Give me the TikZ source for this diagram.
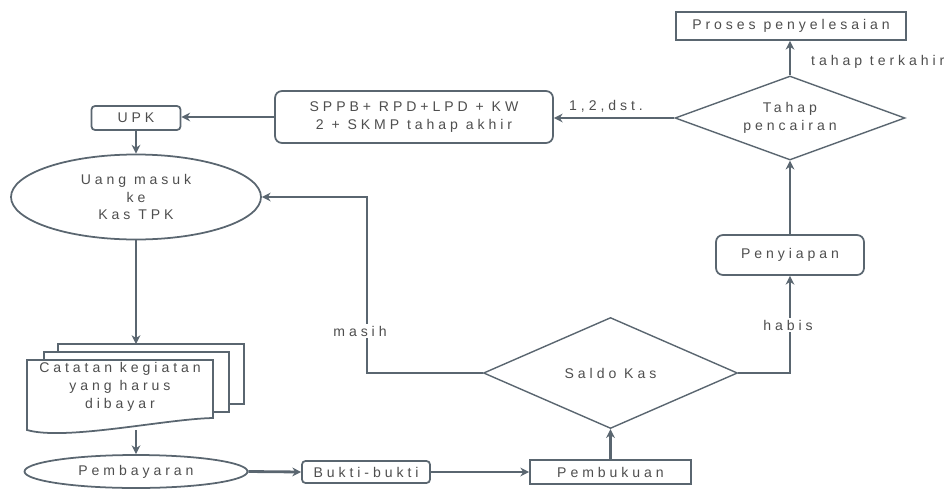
\documentclass[tikz,border=0pt]{standalone}
\usepackage{fontspec}
\newfontfamily\flowfont{Liberation Sans}[LetterSpace=28]
\usetikzlibrary{arrows.meta,positioning,calc,shapes.geometric}
\definecolor{cLine}{HTML}{5A6670}
\definecolor{cInk}{HTML}{4E4E4E}
\tikzset{
  >=Stealth,
  txt/.style={font=\flowfont\fontsize{8}{10.2}\selectfont,text=cInk},
  box/.style={txt,rounded corners=4pt,draw=cLine,line width=1pt,align=center,inner sep=2pt},
  sbox/.style={box,rounded corners=0pt},
  ell/.style={box,ellipse,rounded corners=0pt},
  dia/.style={box,diamond,rounded corners=0pt,line width=0.8pt,inner sep=1pt},
  ar/.style={-{Stealth[length=5pt,width=5pt]},line width=1.6pt,cLine},
  ln/.style={line width=1pt,cLine},
  lbl/.style={txt,fill=white,inner sep=1pt},
}

\begin{document}
\begin{tikzpicture}
\useasboundingbox (0,0) rectangle (19.02,9.8);
% right column
\node[sbox,minimum width=4.6cm,minimum height=5.6mm] (proses) at (15.82,9.28) {Proses penyelesaian};
\node[dia,aspect=2.7,minimum width=4.6cm,minimum height=1.68cm] (tahap) at (15.80,7.44) {Tahap\\pencairan};
\node[box,minimum width=2.96cm,minimum height=8mm] (siap) at (15.80,4.70) {Penyiapan};
% top row
\node[box,minimum width=5.56cm,minimum height=1.04cm] (spp) at (8.28,7.46) {SPPB+ RPD+LPD + KW\\2 + SKMP tahap akhir};
\node[box,rounded corners=2pt,minimum width=1.78cm,minimum height=4.8mm] (upk) at (2.72,7.44) {UPK};
% left column
\node[ell,minimum width=5cm,minimum height=1.7cm] (uang) at (2.72,5.86) {Uang masuk\\ke\\Kas TPK};
\node[txt,align=center] (cat) at (2.40,2.06) {Catatan kegiatan\\yang harus\\dibayar};
\coordinate (catin) at (2.72,2.92);
\coordinate (catout) at (2.72,1.20);
\node[ell,minimum width=4.46cm,minimum height=6.6mm] (bayar) at (2.72,0.37) {Pembayaran};
% bottom row
\node[box,rounded corners=2pt,minimum width=2.56cm,minimum height=4.4mm] (bukti) at (7.32,0.36) {Bukti-bukti};
\node[sbox,minimum width=3.22cm,minimum height=4.8mm] (buku) at (12.21,0.36) {Pembukuan};
\node[dia,aspect=2.3,minimum width=5.08cm,minimum height=2.22cm] (saldo) at (12.21,2.34) {Saldo Kas};

% document stack
\draw[ln] (1.16,2.76) -- (1.16,2.92) -- (4.88,2.92) -- (4.88,1.72) -- (4.58,1.72);
\draw[ln] (0.88,2.60) -- (0.88,2.76) -- (4.58,2.76) -- (4.58,1.56) -- (4.26,1.56);
\draw[ln] (0.54,2.60) -- (4.26,2.60) -- (4.26,1.44)
   .. controls (3.3,1.42) and (1.3,0.98) .. (0.54,1.20) -- cycle;

% connectors
\draw[ar] (tahap.north) -- (tahap.north |- proses.south);
\node[txt,anchor=west] (akhir) at (16.10,8.56) {tahap terkahir};
\draw[ar] (siap.north) -- (tahap.south);
\draw[ar] (tahap.west) -- (tahap.west -| spp.east);
\node[txt] (dst) at (12.12,7.68) {1,2,dst.};
\draw[ar] (spp.west) -- (spp.west -| upk.east);
\draw[ar] (upk.south) -- (uang.north);
\draw[ar] (uang.south) -- (catin);
\draw[ar] (catout) -- (bayar.north);
\draw[ar] (bayar.east) -- (bukti.west);
\draw[ar] (bukti.east) -- (buku.west);
\draw[ar] (buku.north) -- (saldo.south);
\coordinate (msh) at (7.34,2.34);
\draw[ar] (saldo.west) -- (msh) |- (uang.east);
\node[lbl] (lmasih) at (7.20,3.18) {masih};
\draw[ar] (saldo.east) -| (siap.south);
\node[lbl] (lhabis) at (15.76,3.30) {habis};
\end{tikzpicture}
\end{document}
